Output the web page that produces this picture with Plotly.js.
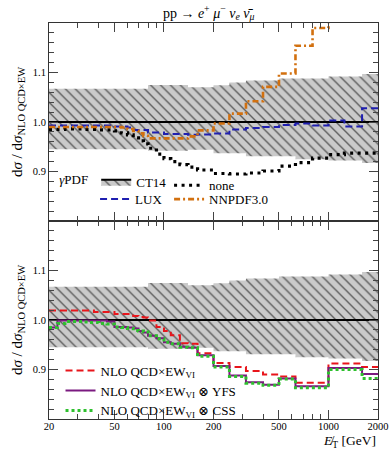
<!DOCTYPE html>
<html>
<head>
<meta charset="utf-8">
<script src="https://cdn.plot.ly/plotly-3.0.1.min.js"></script>
<style>
  html, body { margin: 0; padding: 0; background: #fff; }
  #plot { width: 390px; height: 451px; }
</style>
</head>
<body>
<div id="plot"></div>
<script>
/** ---------------- data ---------------- **/
// bin edges of the missing-ET histogram (GeV)
let edges = [20, 22.5, 25, 27.5, 30, 32.5, 35, 37.5, 40, 45, 50, 55, 60, 65, 70, 75, 80,
             90, 100, 110, 125, 140, 160, 200, 250, 315, 400, 500, 630, 800, 1000, 1250, 1600, 2000];

// CT14 band (same in both panels)
let ct14Hi = [1.067, 1.067, 1.067, 1.067, 1.067, 1.067, 1.067, 1.067, 1.067, 1.067, 1.067, 1.067, 1.067, 1.067, 1.067, 1.067,
              1.075, 1.075, 1.075, 1.075, 1.075, 1.070, 1.070, 1.074, 1.080, 1.084, 1.084, 1.088, 1.088, 1.088, 1.092, 1.092, 1.097];
let ct14Lo = [0.945, 0.945, 0.945, 0.945, 0.945, 0.945, 0.945, 0.945, 0.945, 0.945, 0.945, 0.945, 0.945, 0.945, 0.945, 0.945,
              0.942, 0.942, 0.942, 0.942, 0.942, 0.944, 0.944, 0.937, 0.937, 0.931, 0.931, 0.931, 0.925, 0.925, 0.922, 0.922, 0.917];
let ct14Mid = [1, 1, 1, 1, 1, 1, 1, 1, 1, 1, 1, 1, 1, 1, 1, 1, 1, 1, 1, 1, 1, 1, 1, 1, 1, 1, 1, 1, 1, 1, 1, 1, 1];

// top panel: photon PDF variations
let none = [0.985, 0.985, 0.986, 0.986, 0.986, 0.985, 0.985, 0.985, 0.984, 0.984, 0.982, 0.978, 0.974, 0.968, 0.962, 0.956,
            0.947, 0.935, 0.926, 0.920, 0.914, 0.909, 0.903, 0.896, 0.895, 0.897, 0.901, 0.911, 0.918, 0.927, 0.934, 0.937, 0.937];
let lux = [0.993, 0.993, 0.993, 0.993, 0.993, 0.993, 0.993, 0.993, 0.993, 0.993, 0.991, 0.991, 0.989, 0.984, 0.984, 0.984,
           0.979, 0.979, 0.976, 0.976, 0.976, 0.974, 0.975, 0.977, 0.985, 0.988, 0.990, 0.994, 0.997, 0.993, 1.003, 0.991, 1.028];
let nnpdf = [0.990, 0.990, 0.990, 0.990, 0.990, 0.990, 0.990, 0.990, 0.990, 0.990, 0.990, 0.989, 0.986, 0.982, 0.977, 0.972,
             0.967, 0.967, 0.967, 0.967, 0.967, 0.971, 0.983, 0.997, 1.017, 1.042, 1.071, 1.098, 1.154, 1.190, 1.300, 1.350, 1.400];

// bottom panel: QED shower comparisons
let ewvi = [1.019, 1.019, 1.019, 1.019, 1.019, 1.019, 1.019, 1.016, 1.016, 1.016, 1.012, 1.012, 1.012, 1.008, 1.006, 1.005,
            0.999, 0.986, 0.978, 0.969, 0.953, 0.952, 0.933, 0.913, 0.905, 0.897, 0.890, 0.886, 0.873, 0.873, 0.912, 0.912, 0.905];
let ewviYFS = [0.985, 0.999, 0.999, 0.999, 0.999, 0.999, 0.999, 0.999, 0.999, 0.997, 0.986, 0.986, 0.985, 0.983, 0.978, 0.975,
               0.968, 0.963, 0.955, 0.952, 0.946, 0.944, 0.929, 0.907, 0.888, 0.874, 0.869, 0.882, 0.866, 0.866, 0.903, 0.903, 0.891];
let ewviCSS = [0.985, 0.993, 0.997, 0.997, 0.997, 0.996, 0.995, 0.995, 0.993, 0.992, 0.986, 0.985, 0.983, 0.979, 0.978, 0.976,
               0.968, 0.962, 0.955, 0.952, 0.945, 0.944, 0.927, 0.905, 0.886, 0.872, 0.868, 0.881, 0.863, 0.863, 0.900, 0.900, 0.882];

let xTicks = [20, 50, 100, 200, 500, 1000, 2000];
let xMinor = [30, 40, 60, 70, 80, 90, 300, 400, 600, 700, 800, 900];
let yTicks = [0.9, 1.0, 1.1];
let yTickText = ['0.9', '1.0', '1.1'];

/** ---------------- helpers ---------------- **/
// histogram as hv steps: repeat last value at the final edge
function steps(vals) {
    return vals.concat([vals[vals.length - 1]]);
}

let hatch = {shape: '\\', bgcolor: '#cacaca', fgcolor: '#5e5e5e', size: 7, solidity: 0.2};

function bandTraces(xa, ya, showLeg) {
    return [
        {x: edges, y: steps(ct14Lo), xaxis: xa, yaxis: ya, type: 'scatter', mode: 'lines',
         line: {shape: 'hv', width: 0}, showlegend: false, hoverinfo: 'skip'},
        {x: edges, y: steps(ct14Mid), xaxis: xa, yaxis: ya, type: 'scatter', mode: 'lines',
         name: 'CT14', legend: 'legend', showlegend: showLeg,
         line: {shape: 'hv', width: 2, color: '#000'}, fill: 'tonexty', fillcolor: '#cacaca', fillpattern: hatch},
        {x: edges, y: steps(ct14Hi), xaxis: xa, yaxis: ya, type: 'scatter', mode: 'lines',
         line: {shape: 'hv', width: 0}, fill: 'tonexty', fillcolor: '#cacaca', fillpattern: hatch,
         showlegend: false, hoverinfo: 'skip'}
    ];
}

function stepLine(vals, name, xa, ya, leg, color, width, dash) {
    return {x: edges, y: steps(vals), xaxis: xa, yaxis: ya, type: 'scatter', mode: 'lines',
            name: name, legend: leg, line: {shape: 'hv', color: color, width: width, dash: dash}};
}

let ewLabel = 'NLO QCD×EW<sub>VI</sub>';

let data = []
    .concat(bandTraces('x2', 'y2', true))
    .concat([
        stepLine(lux, 'LUX', 'x2', 'y2', 'legend4', '#1f1fb0', 2, '7px,4px'),
        stepLine(none, 'none', 'x2', 'y2', 'legend2', '#000', 3.2, '3px,4.5px'),
        stepLine(nnpdf, 'NNPDF3.0', 'x2', 'y2', 'legend5', '#d2700f', 2.6, '6px,3px,2px,3px')
    ])
    .concat(bandTraces('x', 'y', false))
    .concat([
        stepLine(ewvi, ewLabel, 'x', 'y', 'legend3', '#e8151b', 2, '7px,4px'),
        stepLine(ewviYFS, ewLabel + ' ⊗ YFS', 'x', 'y', 'legend3', '#7b1a80', 2, 'solid'),
        stepLine(ewviCSS, ewLabel + ' ⊗ CSS', 'x', 'y', 'legend3', '#2ec02e', 3, '3px,3px')
    ]);

/** ---------------- layout ---------------- **/
let font = {family: 'Liberation Serif, DejaVu Serif, serif', size: 13, color: '#000'};
let tickFont = {family: 'Liberation Serif, DejaVu Serif, serif', size: 10.5, color: '#000'};
let yTitle = 'd<i>σ</i> / d<i>σ</i><sub>NLO QCD×EW</sub>';

function xAxis(labels, anchor) {
    return {
        type: 'log', range: [Math.log10(20), Math.log10(2000)], anchor: anchor,
        tickvals: xTicks, ticktext: xTicks.map(String), showticklabels: labels,
        ticks: 'inside', ticklen: 9, tickwidth: 1, tickcolor: '#444', ticklabelstandoff: -3,
        minor: {tickvals: xMinor, ticks: 'inside', ticklen: 5, tickcolor: '#444'},
        showline: true, linecolor: '#333', linewidth: 1, mirror: 'allticks',
        showgrid: false, zeroline: false, tickfont: tickFont
    };
}

function yAxis(domain, anchor) {
    return {
        domain: domain, anchor: anchor, range: [0.8, 1.2],
        tickvals: yTicks, ticktext: yTickText,
        ticks: 'inside', ticklen: 9, tickwidth: 1, tickcolor: '#444',
        minor: {dtick: 0.02, ticks: 'inside', ticklen: 5, tickcolor: '#444'},
        showline: true, linecolor: '#333', linewidth: 1, mirror: 'allticks',
        showgrid: false, zeroline: false, tickfont: tickFont,
        title: {text: yTitle, font: {family: font.family, size: 15}, standoff: 6}
    };
}

let legBase = {bgcolor: 'rgba(0,0,0,0)', borderwidth: 0, font: font, tracegroupgap: 0,
               orientation: 'v', xanchor: 'left', yanchor: 'top', traceorder: 'normal'};

let layout = {
    width: 390, height: 451,
    margin: {l: 49, r: 12, t: 23, b: 32},
    paper_bgcolor: '#fff', plot_bgcolor: '#fff',
    font: font,
    title: {text: 'pp → <i>e</i><sup>+</sup> <i>μ</i><sup>−</sup> <i>ν<sub>e</sub></i> <i>ν̄<sub>μ</sub></i>',
            x: 0.535, xanchor: 'center', y: 0.972, yanchor: 'middle',
            font: {family: font.family, size: 14}},
    xaxis: xAxis(true, 'y'),
    yaxis: yAxis([0, 0.5], 'x'),
    xaxis2: xAxis(false, 'y2'),
    yaxis2: yAxis([0.5, 1], 'x2'),
    legend: Object.assign({}, legBase, {x: 0.025, y: 0.637,
        title: {text: '<i>γ</i>PDF', font: font, side: 'left'}}),
    legend4: Object.assign({}, legBase, {x: 0.14, y: 0.593}),
    legend2: Object.assign({}, legBase, {x: 0.365, y: 0.628}),
    legend5: Object.assign({}, legBase, {x: 0.365, y: 0.593}),
    legend3: Object.assign({}, legBase, {x: 0.035, y: 0.16}),
    annotations: [{
        text: '<i>E̸</i><sub>T</sub> [GeV]', xref: 'paper', yref: 'paper',
        x: 1, y: -0.057, xanchor: 'right', yanchor: 'middle', showarrow: false,
        font: {family: font.family, size: 13.5}
    }]
};

Plotly.newPlot('plot', data, layout, {displayModeBar: false, staticPlot: true});
</script>
</body>
</html>
